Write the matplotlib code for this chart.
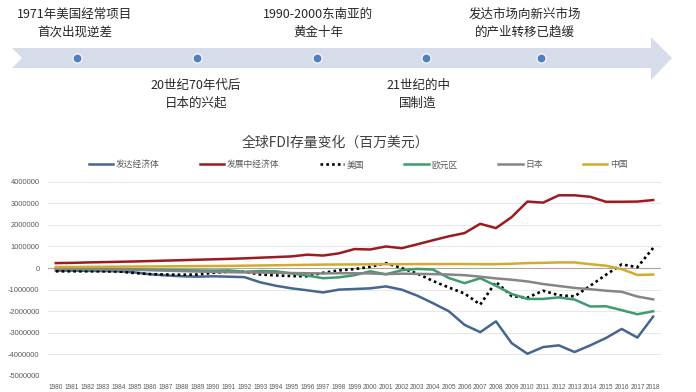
import numpy as np
import matplotlib.pyplot as plt
from matplotlib.patches import Polygon

plt.rcParams['font.family'] = ['Noto Sans CJK SC', 'DejaVu Sans']

years = list(range(1980, 2019))

developed = [-120000, -120000, -130000, -140000, -150000, -200000, -290000, -340000, -380000, -400000,
             -380000, -400000, -420000, -660000, -820000, -940000, -1030000, -1130000, -1000000, -970000,
             -940000, -850000, -1000000, -1280000, -1630000, -2000000, -2630000, -2970000, -2470000, -3480000,
             -3970000, -3660000, -3580000, -3890000, -3580000, -3240000, -2820000, -3220000, -2250000]
developing = [230000, 240000, 260000, 275000, 290000, 305000, 325000, 345000, 365000, 385000,
              405000, 425000, 450000, 480000, 510000, 540000, 620000, 580000, 680000, 880000,
              860000, 1000000, 920000, 1100000, 1290000, 1470000, 1620000, 2050000, 1850000, 2360000,
              3080000, 3030000, 3370000, 3370000, 3300000, 3070000, 3070000, 3080000, 3150000]
usa = [-150000, -150000, -150000, -150000, -160000, -230000, -280000, -300000, -310000, -300000,
       -220000, -170000, -170000, -300000, -340000, -370000, -380000, -220000, -110000, -50000,
       60000, 230000, 0, -260000, -600000, -900000, -1180000, -1690000, -640000, -1300000,
       -1370000, -1050000, -1260000, -1310000, -820000, -310000, 170000, 40000, 930000]
euro = [-30000, -40000, -50000, -50000, -60000, -70000, -80000, -90000, -100000, -110000,
        -120000, -110000, -170000, -140000, -150000, -250000, -350000, -470000, -430000, -330000,
        -150000, -290000, -100000, -40000, -70000, -460000, -700000, -470000, -820000, -1200000,
        -1430000, -1430000, -1360000, -1460000, -1780000, -1770000, -1950000, -2140000, -2000000]
japan = [-20000, -30000, -40000, -50000, -60000, -80000, -100000, -120000, -140000, -160000,
         -180000, -190000, -200000, -210000, -220000, -230000, -240000, -250000, -240000, -240000,
         -250000, -280000, -260000, -270000, -280000, -300000, -330000, -400000, -480000, -540000,
         -620000, -740000, -830000, -920000, -980000, -1050000, -1100000, -1320000, -1450000]
china = [50000, 50000, 55000, 60000, 65000, 70000, 75000, 80000, 85000, 90000,
         95000, 100000, 110000, 120000, 130000, 140000, 150000, 160000, 165000, 170000,
         175000, 180000, 180000, 185000, 185000, 185000, 185000, 180000, 180000, 200000,
         230000, 240000, 260000, 260000, 180000, 110000, -50000, -320000, -300000]

series_names = ['发达经济体', '发展中经济体', '美国', '欧元区', '日本', '中国']

events_top = ['1971年美国经常项目\n首次出现逆差', '1990-2000东南亚的\n黄金十年', '发达市场向新兴市场\n的产业转移已趋缓']
events_bottom = ['20世纪70年代后\n日本的兴起', '21世纪的中\n国制造']

W, H = 696, 392
fig = plt.figure(figsize=(W / 100, H / 100), dpi=100)

# timeline on top, pixel coordinates
top = fig.add_axes([0, 0, 1, 1])
top.set_xlim(0, W)
top.set_ylim(H, 0)
top.axis('off')
band = Polygon([(12, 48), (651, 48), (651, 37), (672, 58), (651, 80), (651, 68), (12, 68), (22, 58)],
               closed=True, facecolor='#d6dce9', edgecolor='none')
top.add_patch(band)
dot_x = [77, 197, 317, 426, 541]
top.plot(dot_x, [58] * 5, 'o', ms=6.5, color='#4f7ec2', mec='white', mew=0.8, ls='none')
for x, t in zip([75, 318, 525], events_top):
    top.text(x, 23, t, ha='center', va='center', fontsize=9, color='#262626', linespacing=1.5)
for x, t in zip([196, 418], events_bottom):
    top.text(x, 94, t, ha='center', va='center', fontsize=9, color='#262626', linespacing=1.5)

# chart
ax = fig.add_axes([48 / W, (H - 376) / H, (661 - 48) / W, (376 - 181.7) / H])
ax.plot(years, developed, color='#44668f', lw=1.8, label=series_names[0])
ax.plot(years, developing, color='#9b1b1f', lw=1.8, label=series_names[1])
ax.plot(years, usa, color='black', lw=1.9, ls=(0, (1, 1.2)), label=series_names[2])
ax.plot(years, euro, color='#3f9a70', lw=1.8, label=series_names[3])
ax.plot(years, japan, color='#858585', lw=1.8, label=series_names[4])
ax.plot(years, china, color='#d3aa2e', lw=1.8, label=series_names[5])

tick_font = ['Liberation Sans', 'DejaVu Sans']
ax.set_xlim(1979.5, 2018.5)
ax.set_ylim(-5000000, 4000000)
ax.set_yticks(np.arange(-5000000, 4000001, 1000000))
ax.set_yticklabels([str(v) for v in range(-5000000, 4000001, 1000000)], family=tick_font)
ax.set_xticks(years)
ax.set_xticklabels([str(y) for y in years], family=tick_font)
ax.tick_params(axis='both', length=0, colors='#595959')
ax.tick_params(axis='y', pad=6, labelsize=5.4)
ax.tick_params(axis='x', pad=6, labelsize=4.7)
for s in ax.spines.values():
    s.set_visible(False)
ax.grid(axis='y', color='#e3e3e3', lw=0.6)
ax.set_axisbelow(True)
ax.axhline(0, color='#a6a6a6', lw=0.8, zorder=1)

fig.text(335 / W, 1 - 143 / H, '全球FDI存量变化（百万美元）', ha='center', va='center',
         fontsize=10, color='#404040')
fig.legend(loc='center', bbox_to_anchor=(358 / W, 1 - 165 / H), ncol=6, frameon=False,
           fontsize=6.3, handlelength=2.8, handletextpad=0.3, columnspacing=4.6, labelcolor='#595959')

fig.savefig('out.png', dpi=100, facecolor='white')
